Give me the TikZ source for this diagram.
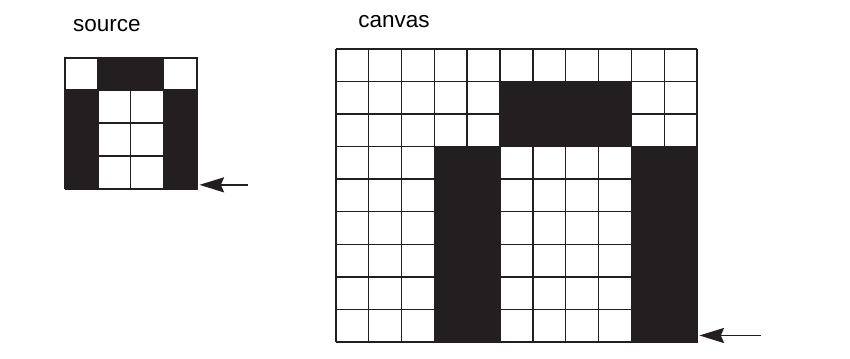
\documentclass[tikz,border=0pt]{standalone}
\usepackage{fontspec}
\setmainfont{Liberation Sans}
\usetikzlibrary{positioning,arrows.meta,calc}
\definecolor{ink}{HTML}{231F20}
\tikzset{
  frame/.style={rectangle,draw=ink,line width=1.2pt,inner sep=0pt,anchor=north west},
  gridline/.style={draw=ink,line width=1.2pt},
  lbl/.style={anchor=base west,inner sep=0pt,font=\fontsize{19.5}{23}\selectfont},
  ptr/.style={-{Stealth[length=7.5mm,width=4.6mm,inset=1mm]},draw=ink,line width=1.2pt},
}
\begin{document}
\begin{tikzpicture}
  \useasboundingbox[fill=white] (0,0) rectangle (25.875,-10.898);
  % source bitmap (4 x 4)
  \node[frame,minimum width=4cm,minimum height=4cm] (source) at (1.98,-1.745) {};
  \begin{scope}[shift={(source.north west)}]
    \draw[gridline] (0,-4) grid (4,0);
    \fill[ink] (1,0) rectangle (3,-1);
    \fill[ink] (0,-1) rectangle (1,-4);
    \fill[ink] (3,-1) rectangle (4,-4);
  \end{scope}
  \node[lbl] (srclbl) at (2.22,-0.97) {source};
  % canvas (11 x 9), source drawn at twice its size
  \node[frame,minimum width=11cm,minimum height=8.92cm] (canvas) at (10.22,-1.49) {};
  \begin{scope}[shift={(canvas.north west)},yscale=0.9911]
    \draw[gridline] (0,-9) grid (11,0);
    \fill[ink] (5,-1) rectangle (9,-3);
    \fill[ink] (3,-3) rectangle (5,-9);
    \fill[ink] (9,-3) rectangle (11,-9);
  \end{scope}
  \node[lbl] (canlbl) at (10.9,-0.83) {canvas};
  % arrows
  \coordinate (stip) at ($(source.south east)+(0.05,0.16)$);
  \coordinate (stail) at ($(stip)+(1.48,0)$);
  \coordinate (ctip) at ($(canvas.south east)+(0.03,0.24)$);
  \coordinate (ctail) at ($(ctip)+(1.86,0)$);
  \draw[ptr] (stail) -- (stip);
  \draw[ptr] (ctail) -- (ctip);
\end{tikzpicture}
\end{document}
